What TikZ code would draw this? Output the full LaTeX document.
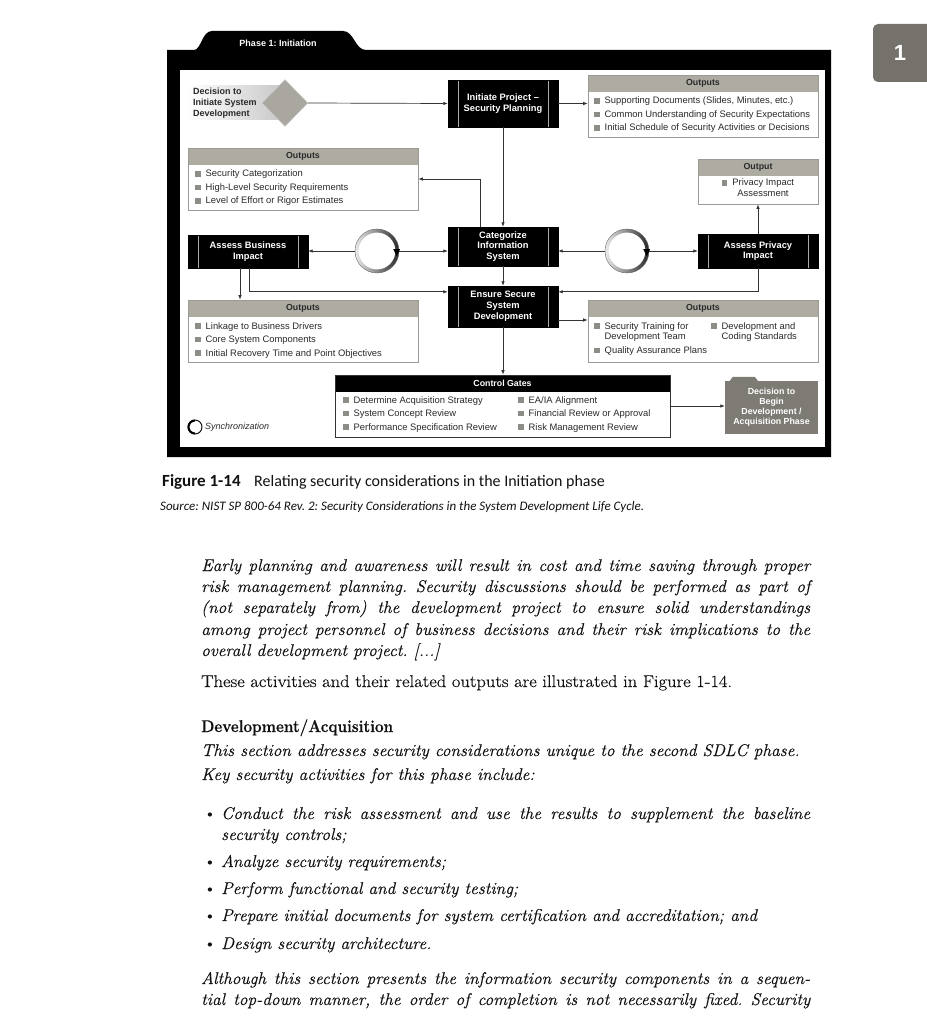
\documentclass[tikz,border=0pt]{standalone}
\usepackage{fontspec}
\usetikzlibrary{arrows.meta,shapes.geometric,calc}
\newfontfamily\diafont{Liberation Sans}
\newfontfamily\capfont{Carlito}
\newfontfamily\bodyfont{Latin Modern Roman}[
  FakeBold=0.35,
  UprightFeatures={FakeStretch=1.09},
  ItalicFeatures={FakeStretch=1.02},
  BoldFeatures={FakeStretch=0.9}]
\definecolor{hdrgray}{HTML}{AEABA3}
\definecolor{bordgray}{HTML}{9C9A94}
\definecolor{sqgray}{HTML}{8E8C86}
\definecolor{txtc}{HTML}{2A2A2A}
\definecolor{decgray}{HTML}{7D7B74}
\definecolor{diagray}{HTML}{A9A79F}
\definecolor{tabgray}{HTML}{74726B}
\definecolor{bodyc}{HTML}{111111}
\definecolor{linec}{HTML}{333333}
\newcommand\sqb{\textcolor{sqgray}{\rule[0.3pt]{5.5pt}{5.5pt}}\hspace{5pt}}
\newcommand\sqsp{\hspace{10.5pt}}
\newcommand\JL[1]{\makebox[609pt][s]{#1}}
\newcommand\JB[1]{\makebox[589pt][s]{#1}}
\frenchspacing
\begin{document}
\begin{tikzpicture}[x=1pt,y=-1pt,
  conn/.style={draw=linec, line width=0.7pt, -{Latex[length=4.5pt,width=3.5pt]}},
  proc/.style={fill=black, draw=black, text=white, align=center, inner sep=0pt,
    font=\diafont\bfseries\fontsize{9.3}{10.8}\selectfont,
    path picture={
      \draw[gray!65, line width=0.6pt] ([xshift=10pt]path picture bounding box.north west) -- ([xshift=10pt]path picture bounding box.south west);
      \draw[gray!65, line width=0.6pt] ([xshift=-10pt]path picture bounding box.north east) -- ([xshift=-10pt]path picture bounding box.south east);}},
  outb/.style={draw=bordgray, fill=white, line width=0.6pt, inner sep=0pt,
    path picture={\fill[hdrgray] (path picture bounding box.north west) rectangle ([yshift=-17pt]path picture bounding box.north east);}},
  gateb/.style={draw=linec, fill=white, line width=0.6pt, inner sep=0pt,
    path picture={\fill[black] (path picture bounding box.north west) rectangle ([yshift=-17pt]path picture bounding box.north east);}},
  hdrt/.style={font=\diafont\bfseries\fontsize{8.8}{10}\selectfont, text=txtc, inner sep=0pt},
  itl/.style={font=\diafont\fontsize{9.4}{11}\selectfont, text=txtc, inner sep=0pt, anchor=base west},
  bodyt/.style={font=\bodyfont\fontsize{17}{20}\selectfont, text=bodyc, inner sep=0pt, anchor=base west},
  ring/.style={circle, minimum size=44pt, inner sep=0pt}
]
\useasboundingbox (0,0) rectangle (926,1024);
\fill[white] (0,0) rectangle (926,1024);

% page tab
\fill[tabgray, rounded corners=5pt] (873,24) rectangle (935,82);
\node[font=\diafont\bfseries\fontsize{22}{24}\selectfont, text=white, inner sep=0pt] (pg) at (900,53) {1};

% frame
\fill[black] (167,457) -- (167,50) -- (194,50) .. controls (201,50) and (202,31) .. (212,31) -- (343,31) .. controls (354,31) and (355,50) .. (366,50) -- (831,50) -- (831,457) -- cycle;
\fill[white] (180,70) rectangle (825,447);
\node[font=\diafont\bfseries\fontsize{9}{10}\selectfont, text=white, inner sep=0pt] (phase) at (278,43) {Phase 1: Initiation};

% decision to initiate
\shade[left color=white, right color=gray!45] (188,86) rectangle (286,120);
\node[diamond, fill=diagray, draw=gray!40, minimum width=46pt, minimum height=47pt, inner sep=0pt] (dec0) at (285,103) {};
\node[anchor=west, align=left, inner sep=0pt, text=txtc, font=\diafont\bfseries\fontsize{9}{11}\selectfont] (dec0t) at (193,103) {Decision to\\Initiate System\\Development};

% process boxes
\node[proc, minimum width=110pt, minimum height=47pt] (init) at (503,103.5) {Initiate Project –\\Security Planning};
\node[proc, minimum width=110pt, minimum height=39pt] (cat) at (503,246.5) {Categorize\\Information\\System};
\node[proc, minimum width=110pt, minimum height=41pt] (ens) at (503,306.5) {Ensure Secure\\System\\Development};
\node[proc, minimum width=120pt, minimum height=33pt] (abi) at (248,251.5) {Assess Business\\Impact};
\node[proc, minimum width=120pt, minimum height=34pt] (api) at (758,251) {Assess Privacy\\Impact};

% output boxes
\node[outb, minimum width=230pt, minimum height=62pt] (out1) at (703,106) {};
\node[hdrt] (out1h) at ([yshift=-8.5pt]out1.north) {Outputs};
\node[itl] (o1a) at (594,104) {\sqb Supporting Documents (Slides, Minutes, etc.)};
\node[itl] (o1b) at (594,117.5) {\sqb Common Understanding of Security Expectations};
\node[itl] (o1c) at (594,131) {\sqb Initial Schedule of Security Activities or Decisions};

\node[outb, minimum width=230pt, minimum height=62pt] (out2) at (303,179) {};
\node[hdrt] (out2h) at ([yshift=-8.5pt]out2.north) {Outputs};
\node[itl] (o2a) at (195,177) {\sqb Security Categorization};
\node[itl] (o2b) at (195,190.5) {\sqb High-Level Security Requirements};
\node[itl] (o2c) at (195,204) {\sqb Level of Effort or Rigor Estimates};

\node[outb, minimum width=120pt, minimum height=45pt] (outP) at (758,181.5) {};
\node[hdrt] (outPh) at ([yshift=-8.5pt]outP.north) {Output};
\node[itl, anchor=base] (oPa) at (758,186) {\sqb Privacy Impact};
\node[itl, anchor=base] (oPb) at (763,197) {Assessment};

\node[outb, minimum width=230pt, minimum height=62pt] (out3) at (303,331) {};
\node[hdrt] (out3h) at ([yshift=-8.5pt]out3.north) {Outputs};
\node[itl] (o3a) at (195,329) {\sqb Linkage to Business Drivers};
\node[itl] (o3b) at (195,342.5) {\sqb Core System Components};
\node[itl] (o3c) at (195,356) {\sqb Initial Recovery Time and Point Objectives};

\node[outb, minimum width=230pt, minimum height=62pt] (out4) at (703,331) {};
\node[hdrt] (out4h) at ([yshift=-8.5pt]out4.north) {Outputs};
\node[itl] (o4a) at (594,329) {\sqb Security Training for};
\node[itl] (o4b) at (594,339.5) {\sqsp Development Team};
\node[itl] (o4c) at (594,353.5) {\sqb Quality Assurance Plans};
\node[itl] (o4d) at (711,329) {\sqb Development and};
\node[itl] (o4e) at (711,339.5) {\sqsp Coding Standards};

% control gates
\node[gateb, minimum width=335pt, minimum height=62pt] (gates) at (502.5,406) {};
\node[hdrt, text=white] (gatesh) at ([yshift=-8.5pt]gates.north) {Control Gates};
\node[itl] (g1) at (343,403) {\sqb Determine Acquisition Strategy};
\node[itl] (g2) at (343,416.5) {\sqb System Concept Review};
\node[itl] (g3) at (343,430) {\sqb Performance Specification Review};
\node[itl] (g4) at (518,403) {\sqb EA/IA Alignment};
\node[itl] (g5) at (518,416.5) {\sqb Financial Review or Approval};
\node[itl] (g6) at (518,430) {\sqb Risk Management Review};

% decision to begin
\node[fill=decgray, minimum width=93pt, minimum height=53pt, inner sep=0pt, text=white, align=center,
  font=\diafont\bfseries\fontsize{8.8}{10}\selectfont] (dec) at (771.5,407.5) {Decision to\\Begin\\Development /\\Acquisition Phase};
\fill[decgray] ([xshift=5pt]dec.north west) -- ([xshift=8pt,yshift=4pt]dec.north west) -- ([xshift=30pt,yshift=4pt]dec.north west) -- ([xshift=33pt]dec.north west) -- cycle;

% synchronization rings
\node[ring] (c1) at (377,251) {};
\node[ring] (c2) at (627,251) {};
\foreach \c in {c1,c2}{
  \shade[left color=gray!15, right color=black!85, even odd rule] (\c.center) circle (22) (\c.center) circle (18.5);
  \draw[black!60, line width=0.4pt] (\c.center) circle (22);
  \fill[black] ([xshift=-6pt,yshift=2pt]\c.east) -- ([xshift=1pt,yshift=2pt]\c.east) -- ([xshift=-2.5pt,yshift=-5pt]\c.east) -- cycle;
}

% legend
\node[circle, minimum size=15pt, inner sep=0pt] (leg) at (195,427) {};
\draw[black, line width=0.9pt] (leg.center) circle (7);
\draw[black, line width=2pt] ([shift={(0,6.5)}]leg.center) arc[start angle=90, end angle=270, radius=6.5];
\node[anchor=west, inner sep=0pt, text=txtc, font=\diafont\itshape\fontsize{9}{10}\selectfont] (legt) at (205,427) {Synchronization};

% connectors
\draw[conn] (dec0.east) -- (init.west);
\draw[conn] (init.east) -- (init.east -| out1.west);
\draw[conn] (init.south) -- (cat.north);
\draw[conn] ([xshift=-23pt]cat.north) |- (out2.east);
\draw[conn] (c1.west) -- (c1.west -| abi.east);
\draw[conn] (c1.east) -- (c1.east -| cat.west);
\draw[conn] (c2.west) -- (c2.west -| cat.east);
\draw[conn] (c2.east) -- (c2.east -| api.west);
\draw[conn] (api.north) -- (outP.south);
\draw[conn] (api.south) |- ([yshift=-6pt]ens.north east);
\draw[conn] ([xshift=-8pt]abi.south) -- ([xshift=-8pt]abi.south |- out3.north);
\draw[conn] ([xshift=1pt]abi.south) |- ([yshift=-6pt]ens.north west);
\draw[conn] (cat.south) -- (ens.north);
\draw[conn] ([yshift=-13.5pt]ens.east) -- ([yshift=-13.5pt]ens.east -| out4.west);
\draw[conn] (ens.south) -- (ens.south |- gates.north);
\draw[conn] (gates.east) -- (gates.east -| dec.west);

% caption
\node[anchor=base west, inner sep=0pt, text=bodyc, font=\capfont\bfseries\fontsize{17}{19}\selectfont] (figlab) at (162,486) {Figure 1-14};
\node[anchor=base west, inner sep=0pt, text=bodyc, font=\capfont\fontsize{16}{19}\selectfont] (figcap) at (254,486) {Relating security considerations in the Initiation phase};
\node[anchor=base west, inner sep=0pt, text=bodyc, font=\capfont\itshape\fontsize{13}{15}\selectfont] (src) at (160,510) {Source: NIST SP 800-64 Rev. 2: Security Considerations in the System Development Life Cycle.};

% body text
\node[bodyt] (p1a) at (201,571) {\itshape\JL{Early planning and awareness will result in cost and time saving through proper}};
\node[bodyt] (p1b) at (201,592) {\itshape\JL{risk management planning. Security discussions should be performed as part of}};
\node[bodyt] (p1c) at (201,613) {\itshape\JL{(not separately from) the development project to ensure solid understandings}};
\node[bodyt] (p1d) at (201,635) {\itshape\JL{among project personnel of business decisions and their risk implications to the}};
\node[bodyt] (p1e) at (201,656) {\itshape overall development project. [...]};
\node[bodyt] (p2) at (201,687) {These activities and their related outputs are illustrated in Figure 1-14.};
\node[bodyt] (h1) at (201,732) {\bfseries Development/Acquisition};
\node[bodyt] (p3) at (201,756) {\itshape This section addresses security considerations unique to the second SDLC phase.};
\node[bodyt] (p4) at (201,780) {\itshape Key security activities for this phase include:};
\node[bodyt] (b1d) at (203,819) {\textbullet};
\node[bodyt] (b1a) at (221,819) {\itshape\JB{Conduct the risk assessment and use the results to supplement the baseline}};
\node[bodyt] (b1b) at (221,840) {\itshape security controls;};
\node[bodyt] (b2d) at (203,867) {\textbullet};
\node[bodyt] (b2) at (221,867) {\itshape Analyze security requirements;};
\node[bodyt] (b3d) at (203,894) {\textbullet};
\node[bodyt] (b3) at (221,894) {\itshape Perform functional and security testing;};
\node[bodyt] (b4d) at (203,921) {\textbullet};
\node[bodyt] (b4) at (221,921) {\itshape Prepare initial documents for system certification and accreditation; and};
\node[bodyt] (b5d) at (203,949) {\textbullet};
\node[bodyt] (b5) at (221,949) {\itshape Design security architecture.};
\node[bodyt] (p5a) at (201,984) {\itshape\JL{Although this section presents the information security components in a sequen-}};
\node[bodyt] (p5b) at (201,1005) {\itshape\JL{tial top-down manner, the order of completion is not necessarily fixed. Security}};
\end{tikzpicture}
\end{document}
